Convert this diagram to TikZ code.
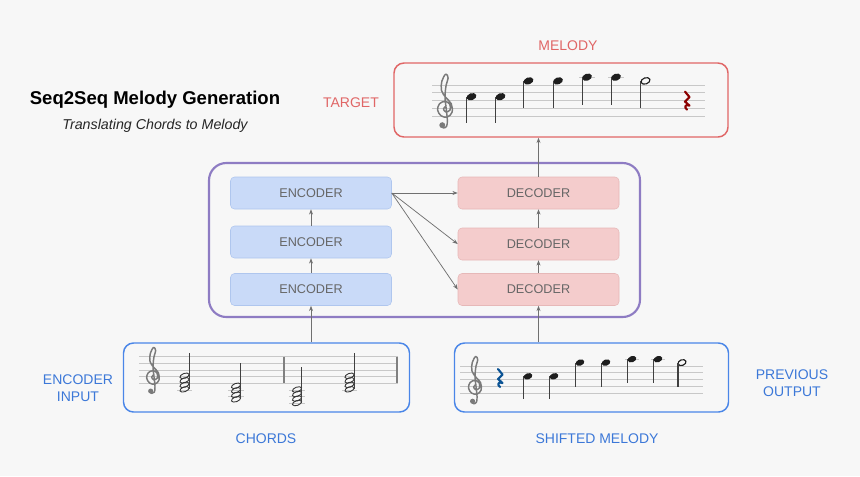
\documentclass[tikz,border=0pt]{standalone}
\usepackage{fontspec}
\setmainfont{Liberation Sans}
\usetikzlibrary{arrows.meta}
\definecolor{bgcol}{HTML}{F7F7F7}
\definecolor{redcol}{HTML}{E06666}
\definecolor{bluecol}{HTML}{4A86E8}
\definecolor{bluetext}{HTML}{3C78D8}
\definecolor{purplecol}{HTML}{8E7CC3}
\definecolor{encfill}{HTML}{C9DAF8}
\definecolor{encline}{HTML}{AFC6EE}
\definecolor{decfill}{HTML}{F4CCCC}
\definecolor{decline}{HTML}{E6B8B8}
\definecolor{boxtext}{HTML}{666666}
\definecolor{arrowcol}{HTML}{707070}
\definecolor{staffcol}{HTML}{C8C8C8}
\definecolor{notecol}{HTML}{1E1E1E}
\definecolor{clefcol}{HTML}{7A7A7A}
\definecolor{restred}{HTML}{8B0000}
\definecolor{restblue}{HTML}{0B5394}
\tikzset{
  encbox/.style={draw=encline, fill=encfill, rounded corners=3pt, minimum width=120.75pt, minimum height=24pt, inner sep=0pt, text=boxtext, font=\fontsize{9.5}{11}\selectfont},
  decbox/.style={draw=decline, fill=decfill, rounded corners=3pt, minimum width=120.75pt, minimum height=24pt, inner sep=0pt, text=boxtext, font=\fontsize{9.5}{11}\selectfont},
  conn/.style={draw=arrowcol, line width=0.55pt, -{Stealth[length=4pt,width=3pt]}},
  lbl/.style={font=\fontsize{10.5}{12.5}\selectfont, align=center, inner sep=0pt},
  staffline/.style={draw=staffcol, line width=0.75pt},
  stemline/.style={draw=notecol!85, line width=0.85pt},
  ledger/.style={draw=staffcol, line width=0.75pt}
}
% treble clef: x, G-line y, spacing (px)
\newcommand\mytreble[3]{%
  \begin{scope}[shift={(#1,#2)}, x={#3*0.75pt}, y={-#3*0.75pt}]
    \draw[clefcol, line width=1.1pt, line cap=round, line join=round]
      plot[smooth, tension=0.6] coordinates {(0.15,-0.3) (-0.2,0.05) (0.1,0.45) (0.65,0.2) (0.6,-0.55) (0,-0.9) (-0.7,-0.6) (-0.95,0.2) (-0.5,0.95) (0.3,1.1) (0.9,0.5) (0.8,-0.6) (0.1,-1.4) (-0.45,-2.3) (-0.4,-3.5) (0.1,-4.4) (0.4,-3.9) (0.15,-3.0) (0,-1.5) (0.15,0) (0.3,1.5) (0.2,2.3) (-0.2,2.5) (-0.45,2.2)};
    \fill[clefcol] (-0.35,2.15) circle [radius=0.38];
  \end{scope}}
% quarter note stem down: x, y, stem bottom y, head rx(pt), ry(pt), stem offset(px)
\newcommand\myqdown[6]{%
  \fill[notecol, rotate around={20:(#1,#2)}] (#1,#2) ellipse [x radius=#4, y radius=#5];
  \draw[stemline] ({#1-#6},#2) -- ({#1-#6},#3);}
\newcommand\myhdown[6]{%
  \draw[notecol, line width=0.85pt, rotate around={20:(#1,#2)}] (#1,#2) ellipse [x radius=#4, y radius=#5];
  \draw[stemline] ({#1-#6},#2) -- ({#1-#6},#3);}
% chord head (hollow)
\newcommand\mychead[2]{%
  \draw[notecol!90, line width=0.65pt, rotate around={20:(#1,#2)}] (#1,#2) ellipse [x radius=3.6pt, y radius=1.8pt];}
% quarter rest centered at x,y
\newcommand\myrest[3]{%
  \draw[#3, line width=1.6pt, line join=round, line cap=round]
    ({#1-2},{#2-9}) -- ({#1+2.5},{#2-3.5}) -- ({#1-2},{#2+1}) -- ({#1+2.5},{#2+5})
    .. controls ({#1-2},{#2+3}) and ({#1-3},{#2+7}) .. ({#1},{#2+9});}
\begin{document}
\begin{tikzpicture}[x=0.75pt,y=-0.75pt]
\fill[bgcol] (0,0) rectangle (860,476);
\useasboundingbox (0,0) rectangle (860,476);

% title
\node[font=\bfseries\fontsize{13.9}{16}\selectfont, inner sep=0pt] (title) at (155,100) {Seq2Seq Melody Generation};
\node[font=\itshape\fontsize{10.7}{13}\selectfont, text=black!85, inner sep=0pt] (subtitle) at (155,126) {Translating Chords to Melody};

% outer frame
\node[draw=purplecol, line width=1.6pt, rounded corners=13pt, minimum width=323.25pt, minimum height=115.5pt, inner sep=0pt] (frame) at (424.5,240) {};

% target box
\node[draw=redcol, line width=1.1pt, rounded corners=7.5pt, minimum width=250.5pt, minimum height=55.5pt, inner sep=0pt] (target) at (561,100) {};
\node[lbl, text=redcol] (melodylbl) at (568,46) {MELODY};
\node[lbl, text=redcol] (targetlbl) at (351,103) {TARGET};

% input boxes
\node[draw=bluecol, line width=1.1pt, rounded corners=7.5pt, minimum width=214.5pt, minimum height=51.75pt, inner sep=0pt] (chords) at (266.5,377.5) {};
\node[draw=bluecol, line width=1.1pt, rounded corners=7.5pt, minimum width=205.5pt, minimum height=51.75pt, inner sep=0pt] (shifted) at (591.5,377.5) {};
\node[lbl, text=bluetext] (chordslbl) at (266,439) {CHORDS};
\node[lbl, text=bluetext] (shiftedlbl) at (597,439) {SHIFTED MELODY};
\node[lbl, text=bluetext] (enclbl) at (78,388) {ENCODER\\INPUT};
\node[lbl, text=bluetext] (prevlbl) at (792,383) {PREVIOUS\\OUTPUT};

% encoders and decoders
\node[encbox] (enc1) at (311,193) {ENCODER};
\node[encbox] (enc2) at (311,242) {ENCODER};
\node[encbox] (enc3) at (311,289.5) {ENCODER};
\node[decbox] (dec1) at (538.5,193) {DECODER};
\node[decbox] (dec2) at (538.5,244) {DECODER};
\node[decbox] (dec3) at (538.5,289.5) {DECODER};

% connectors
\draw[conn] (enc3.north) -- (enc2.south);
\draw[conn] (enc2.north) -- (enc1.south);
\draw[conn] (dec3.north) -- (dec2.south);
\draw[conn] (dec2.north) -- (dec1.south);
\draw[conn] (enc3.south |- chords.north) -- (enc3.south);
\draw[conn] (dec3.south |- shifted.north) -- (dec3.south);
\draw[conn] (dec1.north) -- (dec1.north |- target.south);
\draw[conn] (enc1.east) -- (dec1.west);
\draw[conn] (enc1.east) -- (dec2.west);
\draw[conn] (enc1.east) -- (dec3.west);

% ---- target staff ----
\foreach \yy in {85,92.8,100.6,108.4,116.2} \draw[staffline] (432,\yy) -- (705,\yy);
\mytreble{445}{108.4}{7.8}
\draw[ledger] (579,77.2) -- (595,77.2);
\draw[ledger] (608,77.2) -- (624,77.2);
\myqdown{471.5}{96.7}{123}{3.8pt}{2.6pt}{4.8}
\myqdown{500.5}{96.7}{123}{3.8pt}{2.6pt}{4.8}
\myqdown{528.5}{80.9}{108}{3.8pt}{2.6pt}{4.8}
\myqdown{558}{80.9}{108}{3.8pt}{2.6pt}{4.8}
\myqdown{587}{77.2}{105}{3.8pt}{2.6pt}{4.8}
\myqdown{616}{77.2}{105}{3.8pt}{2.6pt}{4.8}
\myhdown{645.5}{80.9}{108}{3.5pt}{2.3pt}{4.6}
\myrest{687}{100.6}{restred}

% ---- chords staff ----
\foreach \yy in {356.7,363.3,370,376.7,383.3} \draw[staffline] (139,\yy) -- (398,\yy);
\draw[draw=gray, line width=0.8pt] (284,356.7) -- (284,383.3);
\draw[draw=gray, line width=0.8pt] (397,356.7) -- (397,383.3);
\mytreble{153}{376.7}{6.67}
% ledger lines
\draw[ledger] (177,390) -- (192,390);
\draw[ledger] (228,390) -- (244,390);
\draw[ledger] (228,396.7) -- (244,396.7);
\draw[ledger] (289,390) -- (305,390);
\draw[ledger] (289,396.7) -- (305,396.7);
\draw[ledger] (289,403.3) -- (305,403.3);
\draw[ledger] (342,390) -- (357,390);
% chord 1
\foreach \yy in {375.8,380.3,384.8,389.3} \mychead{184.5}{\yy};
\draw[stemline] (189.3,389.3) -- (189.3,353);
% chord 2
\foreach \yy in {385.8,390.3,394.8,399.3} \mychead{236}{\yy};
\draw[stemline] (240.8,399.3) -- (240.8,363);
% chord 3
\foreach \yy in {389.5,394,398.5,403} \mychead{297}{\yy};
\draw[stemline] (301.8,403) -- (301.8,367);
% chord 4
\foreach \yy in {375.8,380.3,384.8,389.3} \mychead{349.5}{\yy};
\draw[stemline] (354.3,389.3) -- (354.3,353);

% ---- shifted staff ----
\foreach \yy in {366,372.85,379.7,386.55,393.4} \draw[staffline] (460,\yy) -- (703,\yy);
\mytreble{475}{386.55}{6.85}
\myrest{500}{378}{restblue}
\draw[ledger] (625,359.15) -- (639,359.15);
\draw[ledger] (651,359.15) -- (665,359.15);
\myqdown{528}{376.3}{399}{3.35pt}{2.3pt}{4.2}
\myqdown{554}{376.3}{399}{3.35pt}{2.3pt}{4.2}
\myqdown{580}{362.6}{387}{3.35pt}{2.3pt}{4.2}
\myqdown{606}{362.6}{387}{3.35pt}{2.3pt}{4.2}
\myqdown{632}{359.15}{383}{3.35pt}{2.3pt}{4.2}
\myqdown{658}{359.15}{383}{3.35pt}{2.3pt}{4.2}
\myhdown{682}{362.6}{387}{3.1pt}{2.1pt}{4}
\end{tikzpicture}
\end{document}
